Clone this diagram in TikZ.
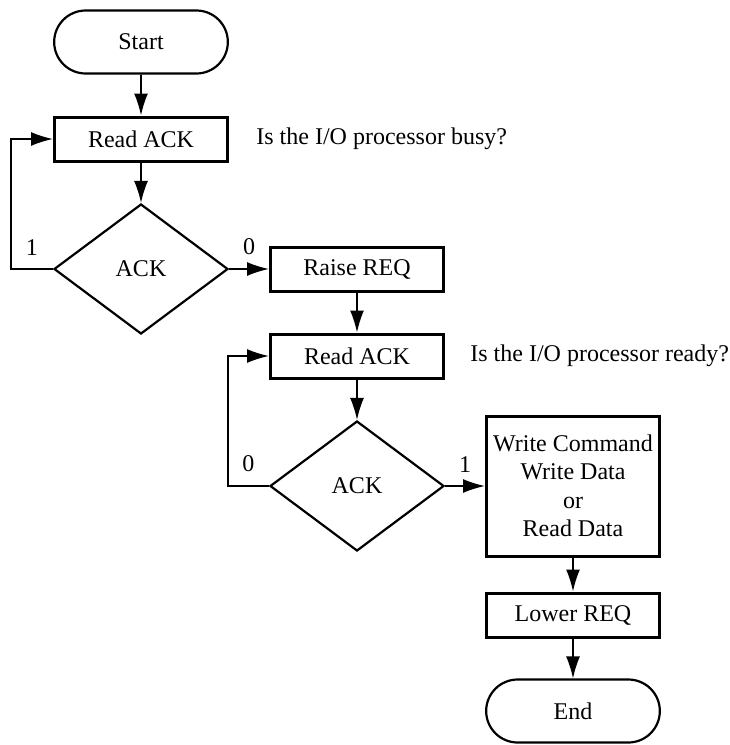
\documentclass[tikz,border=0pt]{standalone}
\usepackage{fontspec}
\setmainfont{Liberation Serif}
\usetikzlibrary{positioning, shapes.geometric, shapes.misc, arrows.meta}

\begin{document}
\begin{tikzpicture}[x=0.5pt,y=0.5pt,on grid,
    font=\fontsize{12pt}{14.25pt}\selectfont,
    >={Latex[length=11pt,width=7pt]},
    terminal/.style={rounded rectangle, draw, line width=1.1pt, minimum width=93.5pt, minimum height=31.5pt},
    process/.style={rectangle, draw, line width=1.5pt, align=center, minimum width=86.5pt, minimum height=22pt},
    decision/.style={diamond, draw, line width=1.1pt, minimum width=87pt, minimum height=65pt, inner sep=0pt},
    note/.style={inner sep=0pt, on grid=false},
    flag/.style={above=4.5pt, inner sep=2pt}]
  \useasboundingbox (0,0) rectangle (729,-745);

  \node[terminal] (start) at (141,-42) {Start};
  \node[process] (read1) [below=48.5pt of start] {Read ACK};
  \node[decision] (ack1) [below=65pt of read1] {ACK};
  \node[process] (raise) [right=108pt of ack1] {Raise REQ};
  \node[process] (read2) [below=43.5pt of raise] {Read ACK};
  \node[decision] (ack2) [below=65pt of read2] {ACK};
  \node[process, minimum height=70pt] (rw) [right=108pt of ack2] {Write Command\\Write Data\\or\\Read Data};
  \node[process] (lower) [below=64.5pt of rw] {Lower REQ};
  \node[terminal] (endn) [below=48pt of lower] {End};

  \node[note] (busy) [right=13.5pt of read1] {Is the I/O processor busy?};
  \node[note] (ready) [right=12.5pt of read2] {Is the I/O processor ready?};

  \path[->, line width=0.8pt]
    (start) edge (read1)
    (read1) edge (ack1)
    (ack1) edge node[flag] {0} (raise)
    (raise) edge (read2)
    (read2) edge (ack2)
    (ack2) edge node[flag] {1} (rw)
    (rw) edge (lower)
    (lower) edge (endn);

  \draw[->, line width=0.8pt] (ack1.west) -- node[flag] {1} ++(-21pt,0) |- (read1.west);
  \draw[->, line width=0.8pt] (ack2.west) -- node[flag] {0} ++(-20.5pt,0) |- (read2.west);
\end{tikzpicture}
\end{document}
